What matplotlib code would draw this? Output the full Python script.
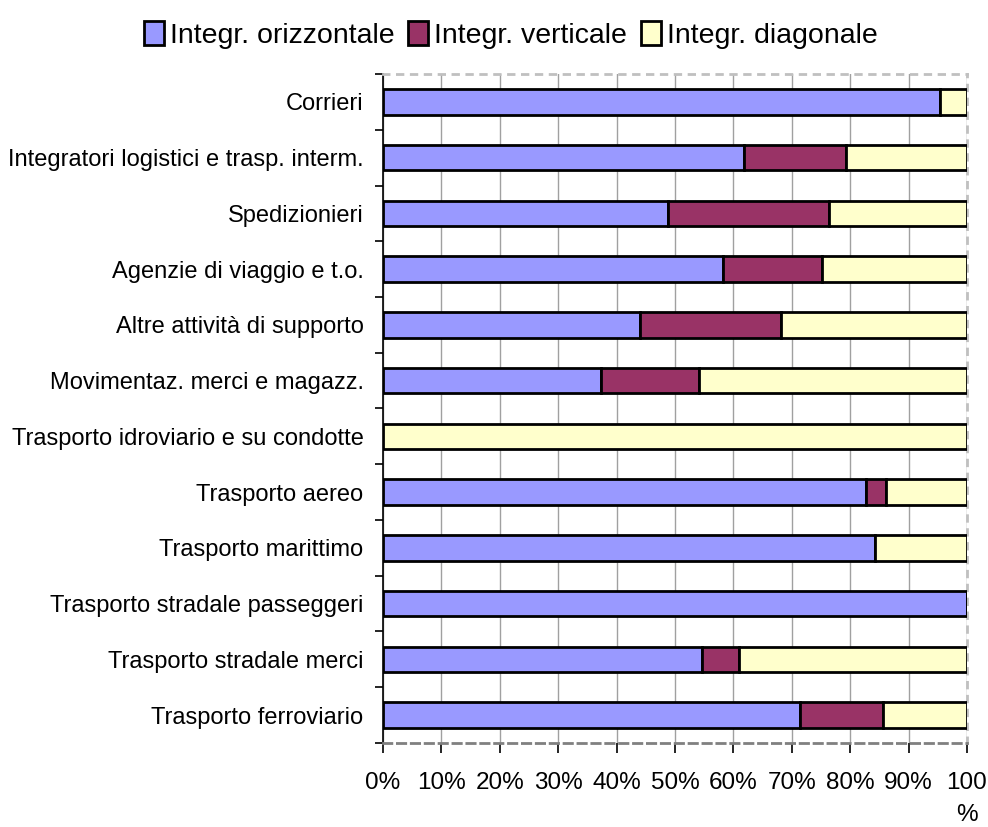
import matplotlib.pyplot as plt
import numpy as np

categories = ['Corrieri', 'Integratori logistici e trasp. interm.', 'Spedizionieri',
              'Agenzie di viaggio e t.o.', 'Altre attività di supporto',
              'Movimentaz. merci e magazz.', 'Trasporto idroviario e su condotte',
              'Trasporto aereo', 'Trasporto marittimo', 'Trasporto stradale passeggeri',
              'Trasporto stradale merci', 'Trasporto ferroviario']
orizzontale = [95.4, 61.9, 48.8, 58.2, 44.0, 37.3, 0.0, 82.7, 84.2, 100.0, 54.6, 71.4]
verticale = [0.0, 17.4, 27.5, 17.0, 24.2, 16.8, 0.0, 3.4, 0.0, 0.0, 6.4, 14.3]
diagonale = [4.6, 20.7, 23.7, 24.8, 31.8, 45.9, 100.0, 13.9, 15.8, 0.0, 39.0, 14.3]
series_names = ['Integr. orizzontale', 'Integr. verticale', 'Integr. diagonale']
tick_labels = ['0%', '10%', '20%', '30%', '40%', '50%', '60%', '70%', '80%', '90%', '100\n%']

plt.rcParams['font.family'] = ['Liberation Sans', 'DejaVu Sans']

fig = plt.figure(figsize=(9.88, 8.27), dpi=100)
ax = fig.add_axes([0.3877, 0.1016, 0.591, 0.8089])

y = np.arange(len(categories))[::-1]
colors = ['#9999FF', '#993366', '#FFFFCC']
left = np.zeros(len(categories))
for vals, col, name in zip([orizzontale, verticale, diagonale], colors, series_names):
    v = np.array(vals)
    ax.barh(y, v, left=left, height=0.46, color=col, edgecolor='black',
            linewidth=2, label=name, zorder=3)
    left += v

ax.set_xlim(0, 100)
ax.set_ylim(-0.5, len(categories) - 0.5)
ax.set_xticks(np.arange(0, 101, 10))
ax.set_xticklabels(tick_labels, fontsize=17.5, va='top', linespacing=1.6)
ax.set_yticks(y)
ax.set_yticklabels(categories, fontsize=17)
ax.tick_params(axis='y', length=0, pad=14)
ax.set_yticks(np.arange(-0.5, len(categories), 1), minor=True)
ax.tick_params(axis='y', which='minor', length=6, width=1.2, color='black')
ax.tick_params(axis='x', length=7, width=1.2, direction='out', pad=14)

ax.grid(axis='x', color='#a0a0a0', linewidth=1, zorder=0)
for s in ['top', 'right']:
    ax.spines[s].set_linestyle((0, (2, 3)))
    ax.spines[s].set_color('#c0c0c0')
    ax.spines[s].set_linewidth(2)
ax.spines['bottom'].set_color('#808080')
ax.spines['bottom'].set_linestyle((0, (3, 2)))
ax.spines['bottom'].set_linewidth(2)
ax.spines['left'].set_color('black')
ax.spines['left'].set_linewidth(1.2)

fig.legend(loc='upper center', bbox_to_anchor=(0.517, 1.005), ncol=3, frameon=False,
           fontsize=20.5, handlelength=0.7, handleheight=0.9, handletextpad=0.2,
           columnspacing=0.5)

fig.savefig('out.png', dpi=100)
